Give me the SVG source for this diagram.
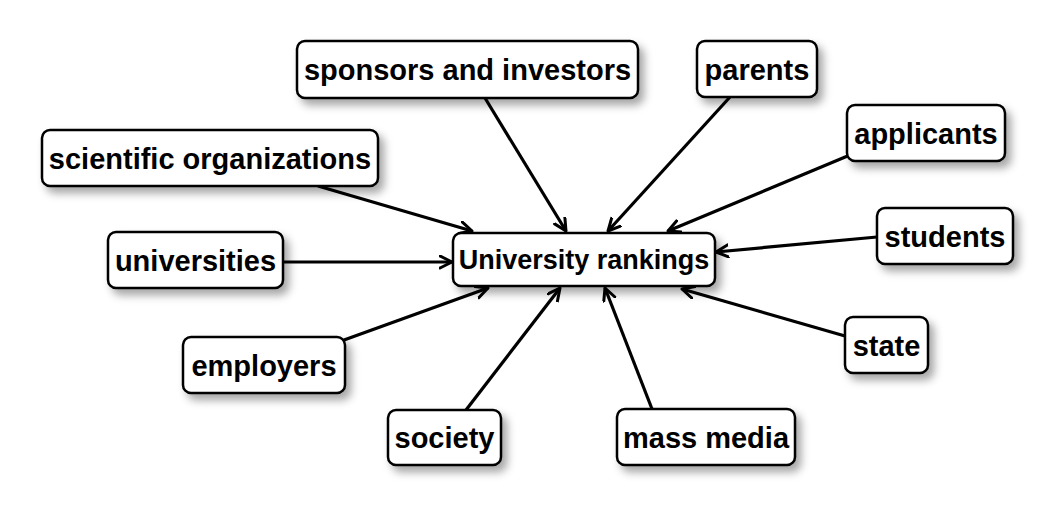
<svg xmlns="http://www.w3.org/2000/svg" width="1054" height="509" viewBox="0 0 1054 509">
<defs>
<filter id="sh" x="-20%" y="-30%" width="150%" height="180%">
<feDropShadow dx="5" dy="6" stdDeviation="4" flood-color="#000" flood-opacity="0.35"/>
</filter>
<marker id="ar" markerUnits="userSpaceOnUse" markerWidth="20" markerHeight="20" refX="13" refY="7" orient="auto">
<path d="M1,1 L13,7 L1,13" fill="none" stroke="#000" stroke-width="3" stroke-linecap="round" stroke-linejoin="round"/>
</marker>
</defs>
<style>
rect{fill:#fff;stroke:#000;stroke-width:2.5;filter:url(#sh)}
text{font-family:"Liberation Sans",Arial,sans-serif;font-weight:bold;font-size:29px;fill:#000;text-anchor:middle}
.c line{stroke:#000;stroke-width:3.2;marker-end:url(#ar)}
</style>
<rect width="1054" height="509" fill="#fff" style="fill:#fff;stroke:none;filter:none"/>
<g class="c" id="connectors">
<line x1="318" y1="186" x2="472" y2="231"/>
<line x1="485" y1="98" x2="566" y2="231"/>
<line x1="730" y1="97" x2="608" y2="231"/>
<line x1="850" y1="155" x2="668" y2="231"/>
<line x1="877" y1="237" x2="716" y2="252"/>
<line x1="283" y1="262" x2="452" y2="262"/>
<line x1="344" y1="340" x2="488" y2="288"/>
<line x1="466" y1="410" x2="560" y2="288"/>
<line x1="652" y1="409" x2="605" y2="288"/>
<line x1="845" y1="336" x2="682" y2="289"/>
</g>
<g id="sponsors"><rect x="297" y="41" width="341" height="57" rx="8"/><text x="467.5" y="80">sponsors and investors</text></g>
<g id="parents"><rect x="697" y="41" width="120" height="56" rx="8"/><text x="757" y="79.5">parents</text></g>
<g id="applicants"><rect x="847" y="105" width="158" height="56" rx="8"/><text x="926" y="143.5">applicants</text></g>
<g id="scientific"><rect x="42" y="130" width="336" height="56" rx="8"/><text x="210" y="168.5">scientific organizations</text></g>
<g id="students"><rect x="877" y="208" width="136" height="56" rx="8"/><text x="945" y="246.5">students</text></g>
<g id="universities"><rect x="108" y="232" width="175" height="56" rx="8"/><text x="195.5" y="270.5">universities</text></g>
<g id="center"><rect x="453" y="233" width="262" height="53" rx="8"/><text x="584" y="269" style="font-size:27px">University rankings</text></g>
<g id="employers"><rect x="183" y="337" width="162" height="56" rx="8"/><text x="264" y="375.5">employers</text></g>
<g id="state"><rect x="845" y="317" width="83" height="56" rx="8"/><text x="886.5" y="355.5">state</text></g>
<g id="society"><rect x="388" y="410" width="113" height="55" rx="8"/><text x="444.5" y="448">society</text></g>
<g id="massmedia"><rect x="617" y="409" width="178" height="56" rx="8"/><text x="706" y="447.5">mass media</text></g>
</svg>
